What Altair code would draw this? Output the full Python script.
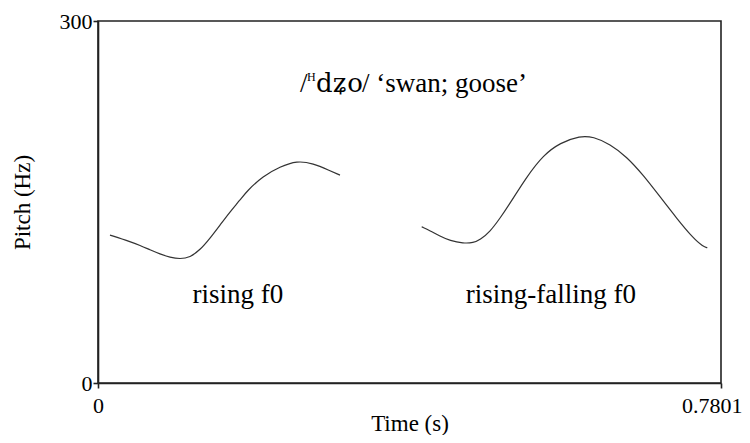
import altair as alt
import pandas as pd

# Pitch contour 1 (rising f0)
seg1_t = [0.0150, 0.0401, 0.0526, 0.0651, 0.0776, 0.0902, 0.1027, 0.1152, 0.1277,
          0.1402, 0.1528, 0.1653, 0.1778, 0.1866, 0.2066, 0.2279, 0.2492, 0.2692,
          0.2905, 0.3030]
seg1_f = [122.6, 117.2, 114.0, 110.4, 106.9, 104.1, 102.7, 104.1, 110.2,
          119.9, 130.9, 141.9, 151.6, 159.2, 171.4, 179.2, 184.2, 182.0,
          175.9, 172.3]

# Pitch contour 2 (rising-falling f0)
seg2_t = [0.4053, 0.4157, 0.4282, 0.4408, 0.4574, 0.4700, 0.4783, 0.4909, 0.5034,
          0.5159, 0.5368, 0.5576, 0.5788, 0.6036, 0.6202, 0.6411, 0.6620, 0.6828,
          0.7037, 0.7246, 0.7454, 0.7580, 0.7630]
seg2_f = [129.5, 126.2, 121.8, 117.9, 115.7, 116.2, 118.5, 125.4, 136.5,
          148.9, 170.9, 188.9, 199.1, 204.9, 204.1, 198.0, 187.5, 172.3,
          154.4, 136.5, 119.9, 113.0, 112.1]

# Annotations below the contours
annot_text = ["rising f0", "rising-falling f0"]
annot_t = [0.1753, 0.5672]
annot_f = [66.3, 66.3]

# Heading "/ᴴdʑo/ ‘swan; goose’" in pieces (slash, superscript H, IPA word, gloss)
head_text = ["/", "H", "d\u0291o", "/ \u2018swan; goose\u2019"]
head_t = [0.2529, 0.2617, 0.2730, 0.3306]
head_f = [241.3, 250.2, 241.3, 241.3]
head_font = ["Liberation Serif, Times New Roman, serif", "Liberation Serif, Times New Roman, serif",
             "DejaVu Serif, serif", "Liberation Serif, Times New Roman, serif"]
head_size = [27, 12, 26, 27]

x_ticks = [0, 0.7801]
y_ticks = [0, 300]

rows = []
for t, f in zip(seg1_t, seg1_f):
    rows.append({"time": t, "pitch": f, "seg": "a"})
for t, f in zip(seg2_t, seg2_f):
    rows.append({"time": t, "pitch": f, "seg": "b"})
curve_df = pd.DataFrame(rows)
annot_df = pd.DataFrame({"time": annot_t, "pitch": annot_f, "label": annot_text})
head_df = pd.DataFrame({"time": head_t, "pitch": head_f, "label": head_text})

FONT = "Liberation Serif, Times New Roman, serif"

xscale = alt.Scale(domain=[0, 0.7801], nice=False, zero=False)
yscale = alt.Scale(domain=[0, 300], nice=False)

xaxis = alt.Axis(
    values=x_ticks, format=".4~f", grid=False, labelFlush=False,
    labelAlign={"condition": {"test": "datum.value > 0.5", "value": "right"}, "value": "center"},
    labelOffset={"condition": {"test": "datum.value > 0.5", "value": 21}, "value": 0},
    title="Time (s)", titleY=47, titleX=311.5, titleBaseline="alphabetic",
    titleAlign="center", labelPadding=7,
)
yaxis = alt.Axis(values=y_ticks, format="d", grid=False, title="Pitch (Hz)",
                 titleX=-76, titleY=181, titleAngle=270, titleBaseline="middle",
                 titleAlign="center", labelPadding=1)

lines = alt.Chart(curve_df).mark_line(
    color="#333333", strokeWidth=1.2, interpolate="basis"
).encode(
    x=alt.X("time:Q", scale=xscale, axis=xaxis),
    y=alt.Y("pitch:Q", scale=yscale, axis=yaxis),
    detail="seg:N",
)

annots = alt.Chart(annot_df).mark_text(
    font=FONT, fontSize=27, color="black", align="center", baseline="alphabetic"
).encode(
    x=alt.X("time:Q", scale=xscale),
    y=alt.Y("pitch:Q", scale=yscale),
    text="label:N",
)

heading = [
    alt.Chart(head_df.iloc[[i]]).mark_text(
        font=head_font[i], fontSize=head_size[i], color="black",
        align="left", baseline="alphabetic"
    ).encode(
        x=alt.X("time:Q", scale=xscale),
        y=alt.Y("pitch:Q", scale=yscale),
        text="label:N",
    )
    for i in range(len(head_text))
]

chart = alt.layer(lines, annots, *heading).properties(
    width=623, height=362,
    autosize=alt.AutoSizeParams(type="none"),
    padding={"left": 90, "top": 13, "right": 21, "bottom": 52},
    background="white",
).configure_view(
    stroke="#222222", strokeWidth=1.6
).configure_axis(
    domainColor="#222222", domainWidth=1.6,
    tickColor="#222222", tickWidth=1.6, tickSize=5,
    labelFont=FONT, labelFontSize=22, labelColor="black",
    titleFont=FONT, titleFontSize=23, titleFontWeight="normal", titleColor="black",
)

chart.save("out.html", embed_options={"renderer": "svg", "actions": False})
